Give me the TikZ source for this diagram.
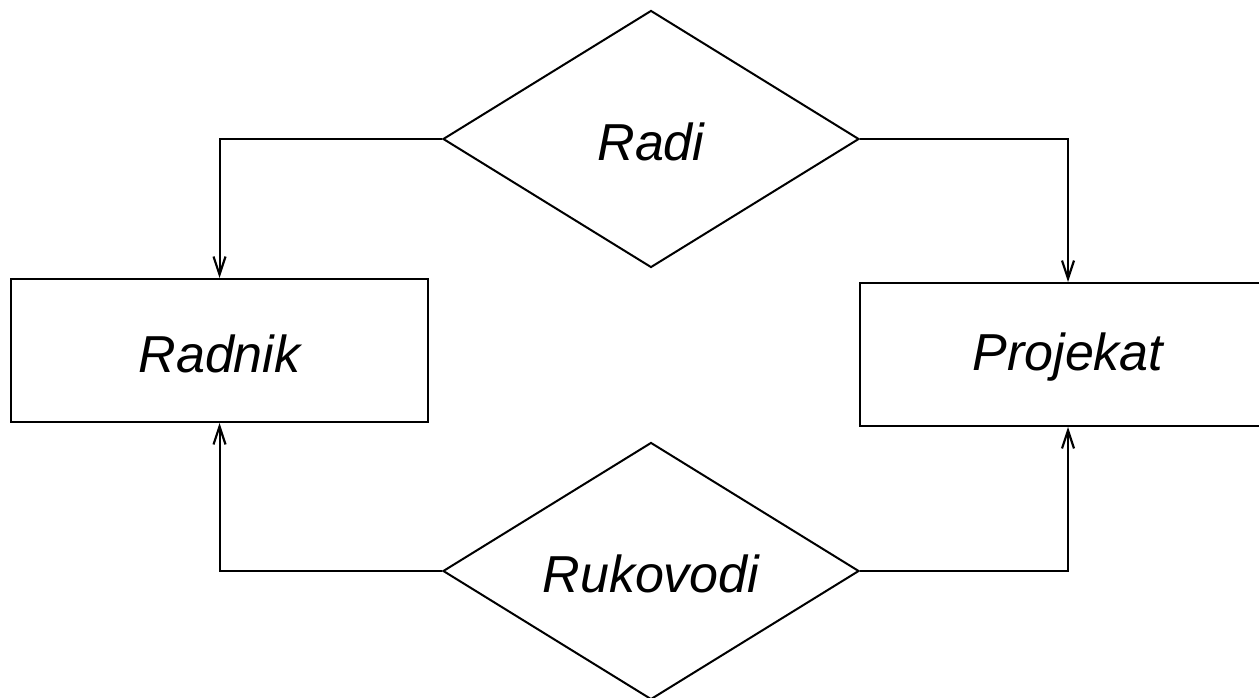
\documentclass[tikz,border=0pt]{standalone}
\usepackage{fontspec}
\setmainfont{Liberation Sans}
\usetikzlibrary{shapes.geometric,arrows.meta}
\newcommand{\lowtext}[1]{\raisebox{-3pt}[\height][\depth]{#1}}
\begin{document}
\begin{tikzpicture}[x=1pt,y=1pt,line width=2pt,
  lbl/.style={font=\fontsize{52}{60}\selectfont\itshape},
  entity/.style={draw,rectangle,minimum width=417pt,minimum height=143pt,inner sep=0pt,lbl},
  rel/.style={draw,diamond,minimum width=416pt,minimum height=257pt,inner sep=0pt,lbl},
  conn/.style={-{Straight Barb[length=18pt,width=12pt,line width=2.2pt]}}]
\useasboundingbox (0,0) rectangle (1259,697);
\clip (0,0) rectangle (1259,697);
\node[rel] (radi) at (651,558) {\lowtext{Radi}};
\node[rel] (ruk) at (651,126) {\lowtext{Rukovodi}};
\node[entity] (radnik) at (219.5,346.5) {\lowtext{Radnik}};
\node[entity] (projekat) at (1068,342.5) {\lowtext{Projekat}};
\draw[conn] (radi.west) -| (radnik.north);
\draw[conn] (radi.east) -| (projekat.north);
\draw[conn] (ruk.west) -| (radnik.south);
\draw[conn] (ruk.east) -| (projekat.south);
\end{tikzpicture}
\end{document}
